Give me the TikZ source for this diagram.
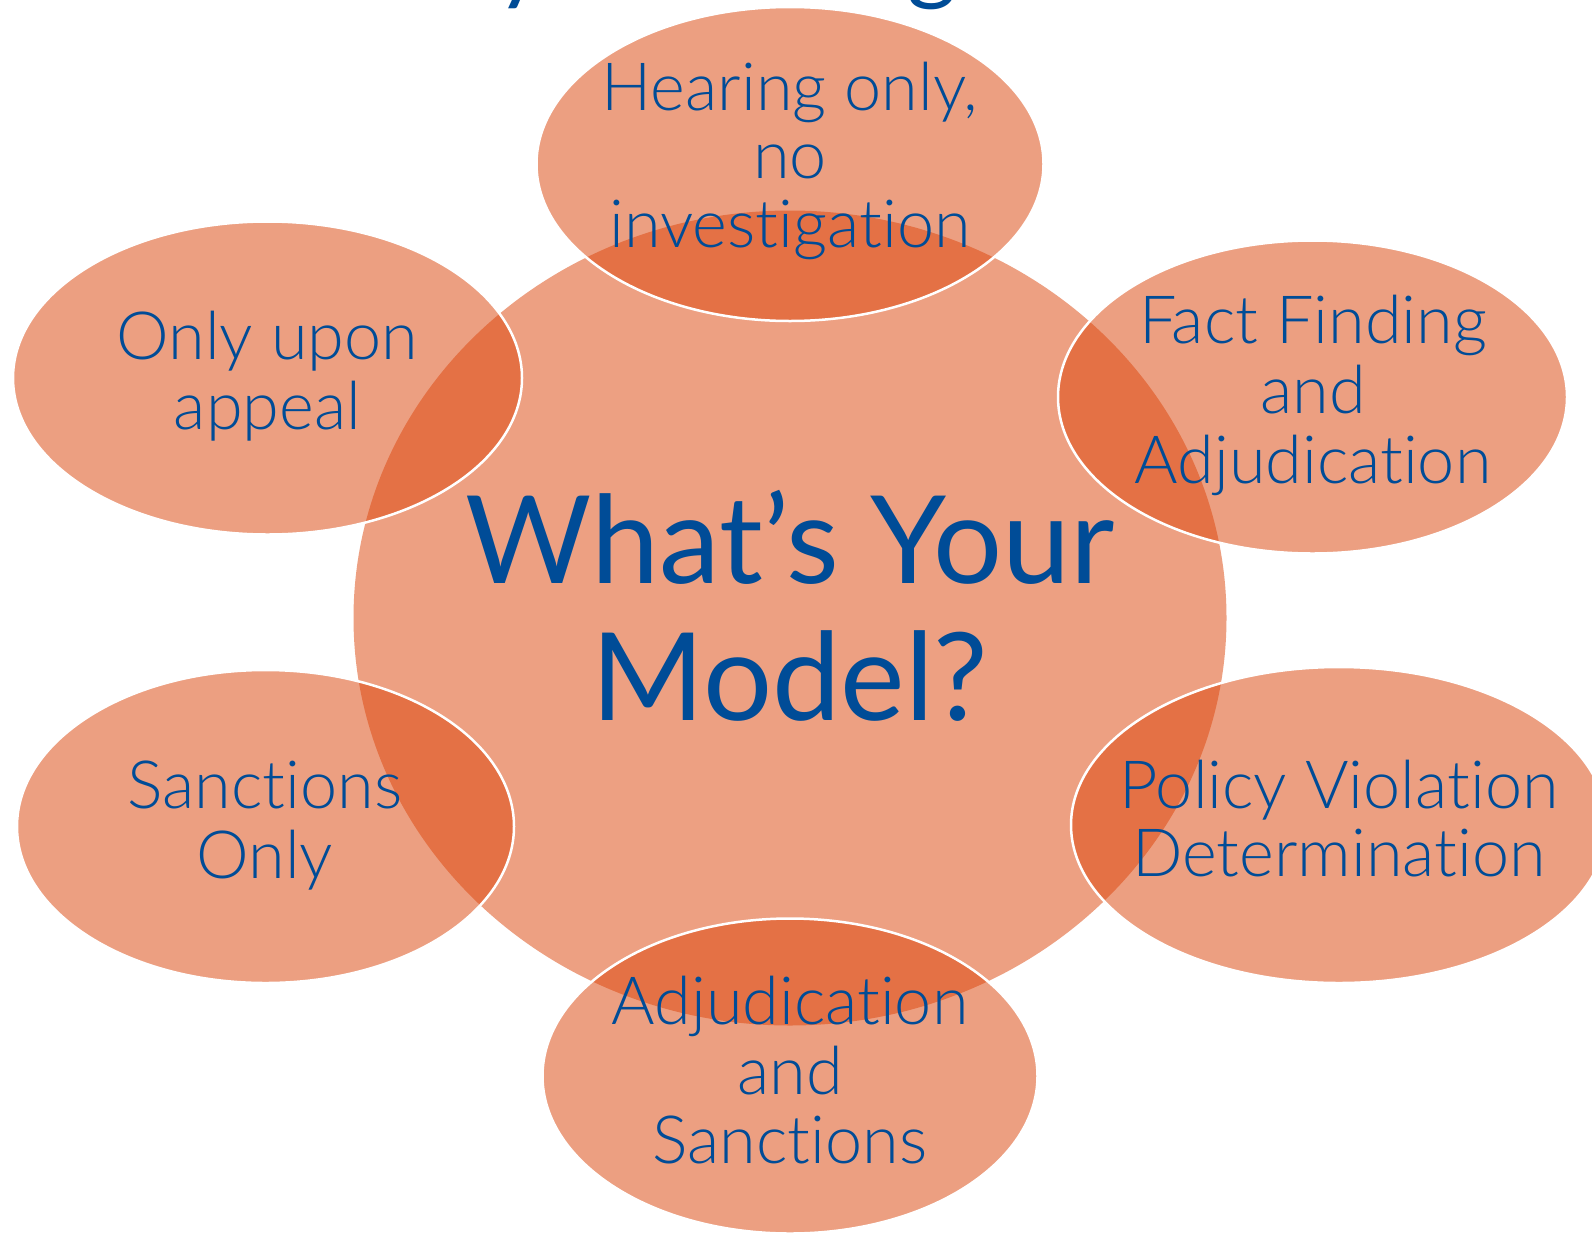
\documentclass[tikz,border=0pt]{standalone}
\usepackage{fontspec}
\setmainfont{Lato}[Ligatures=NoCommon]
\newfontfamily\petalfont{Lato Light}[Ligatures=NoCommon]
\usetikzlibrary{shapes.geometric}
\definecolor{hubfill}{RGB}{237,160,130}
\definecolor{petalfill}{RGB}{220,71,13}
\definecolor{inkblue}{RGB}{0,76,151}
\begin{document}
\begin{tikzpicture}[x=1pt,y=-1pt,
  hub/.style={ellipse,inner sep=0pt,outer sep=0pt,fill=hubfill},
  petal/.style={ellipse,inner sep=0pt,outer sep=0pt,fill=petalfill,
    fill opacity=0.516,draw=white,draw opacity=1,line width=2.5pt},
  petaltext/.style={inner sep=0pt,align=center,text=inkblue,
    font=\petalfont\fontsize{66.5}{68.5}\selectfont},
  hubtext/.style={inner sep=0pt,align=center,text=inkblue,
    font=\fontsize{122}{137}\selectfont},
  titletext/.style={inner sep=0pt,anchor=base,text=inkblue,
    font=\fontsize{95}{100}\selectfont}]
\fill[white] (0,0) rectangle (1592,1237);
\useasboundingbox (0,0) rectangle (1592,1237);

% title line above the frame
\node[titletext] (ttly) at (521,-8) {y};
\node[titletext] (ttlg) at (932,-8) {g};

% central ellipse
\node[hub,minimum width=873pt,minimum height=815pt] (hub) at (790,618) {};

% surrounding ellipses
\node[petal,minimum width=507pt,minimum height=314pt] (ptop) at (790,164) {};
\node[petal,minimum width=509pt,minimum height=313pt] (pul) at (267.5,378) {};
\node[petal,minimum width=509pt,minimum height=313pt] (pur) at (1312.5,397) {};
\node[petal,minimum width=536pt,minimum height=316pt] (plr) at (1339,825) {};
\node[petal,minimum width=497pt,minimum height=313pt] (pll) at (265.5,826.5) {};
\node[petal,minimum width=495pt,minimum height=315pt] (pbot) at (790,1076) {};

% labels
\node[hubtext] (thub) at (790,625) {What’s Your\strut\\Model?\strut};
\node[petaltext] (ttop) at (790,165) {Hearing only,\strut\\no\strut\\investigation\strut};
\node[petaltext] (tul) at (267.5,380.5) {Only upon\strut\\appeal\strut};
\node[petaltext] (tur) at (1313,400) {Fact Finding\strut\\and\strut\\Adjudication\strut};
\node[petaltext] (tlr) at (1339,828.5) {Policy Violation\strut\\Determination\strut};
\node[petaltext] (tll) at (265,829.5) {Sanctions\strut\\Only\strut};
\node[petaltext] (tbot) at (790,1080) {Adjudication\strut\\and\strut\\Sanctions\strut};
\end{tikzpicture}
\end{document}
